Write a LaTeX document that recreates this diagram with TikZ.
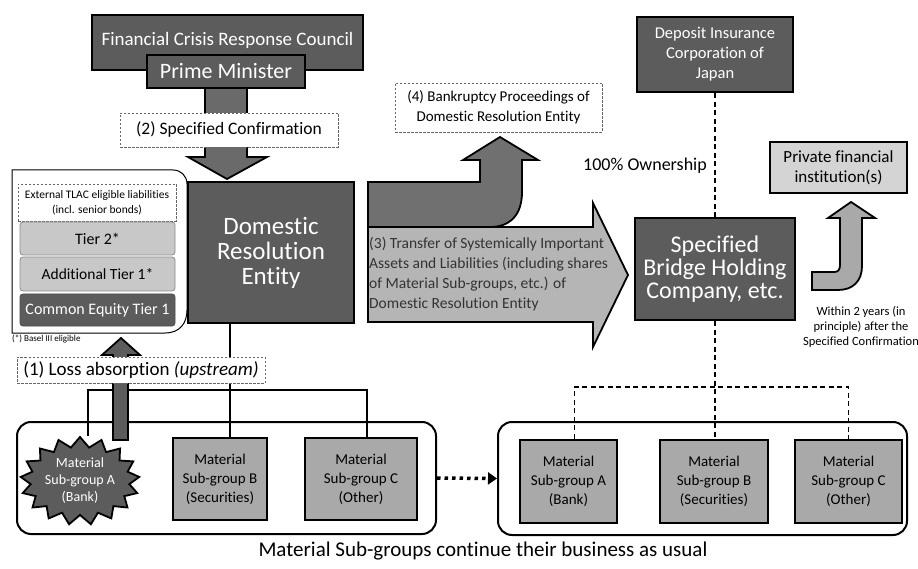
\documentclass[tikz,border=0pt]{standalone}
\usepackage{fontspec}
\setmainfont{Carlito}[Ligatures=NoCommon]
\usetikzlibrary{shapes.symbols,arrows.meta}
\definecolor{dkgray}{HTML}{5C5C5C}
\definecolor{arrgray}{HTML}{6A6A6A}
\definecolor{mdgray}{HTML}{A9A9A9}
\definecolor{ltgray}{HTML}{C8C8C8}
\definecolor{pvgray}{HTML}{D4D4D4}
\definecolor{trgray}{HTML}{B5B5B5}
\definecolor{bkgray}{HTML}{707070}
\newcommand\myfs[2]{\fontsize{#1}{#2}\selectfont}
\begin{document}
\begin{tikzpicture}[x=1pt,y=-1pt,
  darkbox/.style={draw=black,line width=2.2pt,fill=dkgray,text=white,align=center,inner sep=0pt},
  midbox/.style={draw=black,line width=2.2pt,fill=mdgray,text=black,align=center,inner sep=0pt},
  dashbox/.style={draw=black!60,dash pattern=on 2.5pt off 1.5pt,line width=0.9pt,fill=white,align=center,inner sep=0pt},
  tierbox/.style={draw=black!45,line width=0.8pt,rounded corners=3pt,align=center,inner sep=0pt,minimum width=155pt},
  container/.style={draw=black,line width=2pt,rounded corners=14pt,inner sep=0pt},
  conn/.style={line width=1.3pt,black},
  dconn/.style={line width=1.7pt,black,dash pattern=on 5pt off 3.5pt},
  shapearrow/.style={draw=black,line width=1.8pt,line join=miter},
  plain/.style={inner sep=0pt,align=center}
]
\useasboundingbox (0,0) rectangle (918,569);

% ---------- top left: council and prime minister ----------
\node[darkbox,minimum width=271pt,minimum height=55pt] (frc) at (227.5,42.5) {};
\node[plain,text=white,font=\myfs{19}{22}] (frct) at (227.5,40) {Financial Crisis Response Council};
\path[shapearrow,fill=arrgray] (205,88) -- (247,88) -- (247,157) -- (267,157) -- (227,179) -- (188,157) -- (205,157) -- cycle;
\node[darkbox,minimum width=158pt,minimum height=33pt,font=\myfs{22}{24}] (pm) at (226,71.5) {Prime Minister};
\node[dashbox,minimum width=218pt,minimum height=34pt,font=\myfs{17.5}{20}] (conf) at (229,130) {(2) Specified Confirmation};

% ---------- TLAC panel ----------
\draw[line width=1pt,fill=white] (12,170) -- (173,170) .. controls (181,170) and (187,176) .. (187,184) -- (187,310) .. controls (187,323) and (180,333) .. (165,333) -- (12,333) -- cycle;
\node[dashbox,minimum width=158pt,minimum height=37pt,font=\myfs{11.5}{15}] (ext) at (97,202.5) {External TLAC eligible liabilities\\(incl. senior bonds)};
\node[tierbox,fill=ltgray,minimum height=33pt,font=\myfs{16}{18}] (t2) at (97.5,238.5) {Tier 2*};
\node[tierbox,fill=ltgray,minimum height=34pt,font=\myfs{15.5}{18}] (at1) at (97.5,274) {Additional Tier 1*};
\node[tierbox,fill=dkgray,draw=black!70,text=white,minimum height=32pt,font=\myfs{16}{18}] (cet) at (97.5,310) {Common Equity Tier 1};
\node[plain,anchor=west,font=\myfs{9}{10}] (basel) at (12,339) {(*) Basel III eligible};

% ---------- domestic resolution entity ----------
\node[darkbox,minimum width=166pt,minimum height=141pt,font=\myfs{25}{25}] (dre) at (271,252.5) {Domestic\\Resolution\\Entity};

% ---------- bottom left group ----------
\node[container,minimum width=419pt,minimum height=112pt] (botL) at (226.5,478) {};
\coordinate (bus) at (230,390);
\node[starburst,starburst points=17,starburst point height=10pt,random starburst=0,draw=black,line width=1.8pt,fill=dkgray,text=white,align=center,inner sep=0pt,minimum width=115pt,minimum height=88pt,font=\myfs{14}{17}] (matA) at (80,481) {Material\\Sub-group A\\(Bank)};
\node[midbox,minimum width=94pt,minimum height=82pt,font=\myfs{15}{19}] (matB) at (220,479) {Material\\Sub-group B\\(Securities)};
\node[midbox,minimum width=112pt,minimum height=82pt,font=\myfs{15}{19}] (matC) at (361,479) {Material\\Sub-group C\\(Other)};
\draw[conn] (dre.south -| bus) -- (matB.north -| bus);
\draw[conn] ([xshift=8pt]matA.north) |- (bus) -| ([xshift=6pt]matC.north);
\path[shapearrow,fill=dkgray] (113,440) -- (128,440) -- (128,355) -- (140,355) -- (121,338) -- (102,355) -- (113,355) -- cycle;
\node[dashbox,minimum width=248pt,minimum height=26pt,font=\myfs{19}{22}] (loss) at (141,370) {(1) Loss absorption \textit{(upstream)}};

% ---------- transfer and bankruptcy arrows ----------
\path[shapearrow,fill=bkgray] (368,182) -- (480,182) -- (480,160) -- (463,160) -- (500,137) -- (538,160) -- (522,160) -- (522,192) .. controls (522,215) and (510,227) .. (490,227) -- (368,227) -- cycle;
\path[shapearrow,fill=trgray] (368,227) -- (593,227) -- (593,203) -- (628,275) -- (593,347) -- (593,322) -- (368,322) -- cycle;
\node[plain,anchor=west,align=left,text=black!80,font=\myfs{15.5}{20}] (t3) at (369,274) {(3) Transfer of Systemically Important\\Assets and Liabilities (including shares\\ of Material Sub-groups, etc.) of\\Domestic Resolution Entity};
\node[dashbox,minimum width=207pt,minimum height=49pt,font=\myfs{15}{20}] (bk) at (498.5,107.5) {(4) Bankruptcy Proceedings of\\Domestic Resolution Entity};

% ---------- right side ----------
\node[darkbox,minimum width=156pt,minimum height=75pt,font=\myfs{16.5}{20}] (dicj) at (715,54.5) {Deposit Insurance\\Corporation of\\Japan};
\node[darkbox,minimum width=160pt,minimum height=102pt,font=\myfs{24}{23}] (bridge) at (715,269) {Specified\\Bridge Holding\\Company, etc.};
\draw[dconn] (dicj.south) -- (bridge.north);
\node[plain,font=\myfs{18}{20}] (own) at (645,166) {100\% Ownership};
\node[draw=black,line width=2pt,fill=pvgray,align=center,inner sep=0pt,minimum width=137pt,minimum height=51pt,font=\myfs{17}{20}] (priv) at (838.5,167.5) {Private financial\\institution(s)};
\path[shapearrow,fill=mdgray] (840,218) -- (828,218) -- (851,202) -- (875,218) -- (862,218) -- (862,266) .. controls (862,281) and (853,290) .. (838,290) -- (812,290) -- (812,272) -- (834,272) .. controls (838,272) and (840,270) .. (840,265) -- cycle;
\node[plain,font=\myfs{12.5}{15}] (within) at (861,327) {Within 2 years (in\\principle) after the\\Specified Confirmation};

\node[container,minimum width=409pt,minimum height=113pt] (botR) at (702.5,478.5) {};
\node[midbox,minimum width=97pt,minimum height=83pt,font=\myfs{15}{19}] (matA2) at (568.5,481.5) {Material\\Sub-group A\\(Bank)};
\node[midbox,minimum width=108pt,minimum height=83pt,font=\myfs{15}{19}] (matB2) at (714,481.5) {Material\\Sub-group B\\(Securities)};
\node[midbox,minimum width=107pt,minimum height=83pt,font=\myfs{15}{19}] (matC2) at (848.5,481.5) {Material\\Sub-group C\\(Other)};
\coordinate (rbus) at (715,387);
\draw[dconn] (bridge.south) -- (matB2.north -| bridge.south);
\draw[dconn] ([xshift=6pt]matA2.north) |- (rbus) -| (matC2.north);

\draw[line width=3.5pt,dash pattern=on 3.5pt off 4pt,-{Triangle[width=12pt,length=9pt]}] (botL.east) -- (botR.west);

\node[plain,font=\myfs{21}{24}] (cap) at (483,551) {Material Sub-groups continue their business as usual};
\end{tikzpicture}
\end{document}
